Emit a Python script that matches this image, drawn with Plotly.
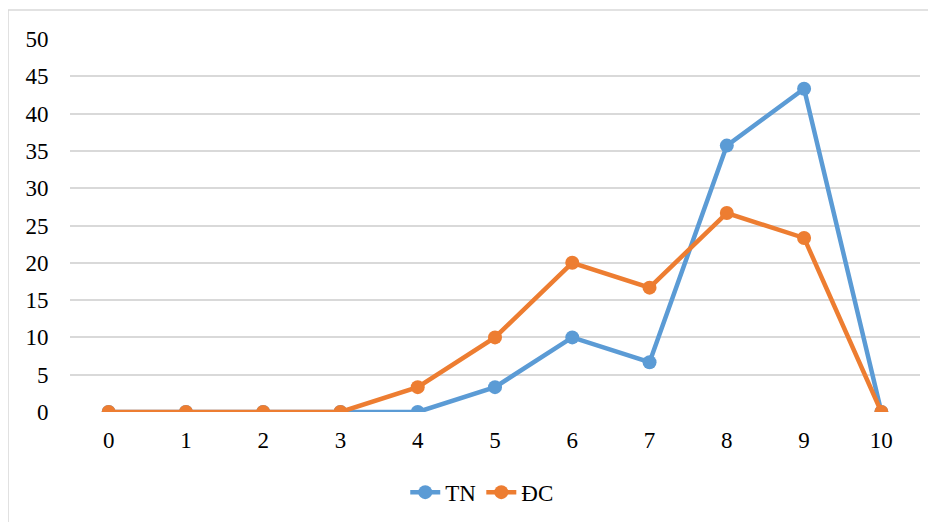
import plotly.graph_objects as go

categories = [0, 1, 2, 3, 4, 5, 6, 7, 8, 9, 10]
tn_values = [0, 0, 0, 0, 0, 3.33, 10, 6.67, 35.71, 43.33, 0]
dc_values = [0, 0, 0, 0, 3.33, 10, 20, 16.67, 26.67, 23.33, 0]
y_ticks = [0, 5, 10, 15, 20, 25, 30, 35, 40, 45, 50]

BLUE = "#5B9BD5"
ORANGE = "#ED7D31"
GRID = "#D9D9D9"
FONT = "Liberation Serif"

fig = go.Figure()
fig.add_trace(go.Scatter(x=categories, y=tn_values, name="TN", mode="lines+markers",
                         line=dict(color=BLUE, width=4.5), marker=dict(size=14, color=BLUE)))
fig.add_trace(go.Scatter(x=categories, y=dc_values, name="ĐC", mode="lines+markers",
                         line=dict(color=ORANGE, width=4.5), marker=dict(size=14, color=ORANGE)))

fig.update_layout(
    width=928, height=514,
    margin=dict(l=62, r=16, t=31, b=110, autoexpand=False),
    paper_bgcolor="white", plot_bgcolor="white",
    font=dict(family=FONT, size=23, color="black"),
    showlegend=True,
    legend=dict(orientation="h", x=0.485, xanchor="center",
                yref="container", y=0.058, yanchor="middle",
                font=dict(family=FONT, size=23)),
    xaxis=dict(range=[-0.5, 10.5], tickvals=categories, ticktext=[str(c) for c in categories],
               showgrid=False, zeroline=False, showline=False,
               ticks="outside", ticklen=7, tickcolor="rgba(0,0,0,0)"),
    yaxis=dict(range=[0, 50], tickvals=y_ticks, showgrid=True, gridcolor=GRID, gridwidth=1.5,
               zeroline=False, showline=False,
               ticks="outside", ticklen=16, tickcolor="rgba(0,0,0,0)"),
    shapes=[dict(type="rect", xref="paper", yref="paper",
                 x0=-0.0729, x1=1.2, y0=-0.5, y1=1.0777,
                 line=dict(color=GRID, width=1.5), fillcolor="rgba(0,0,0,0)", layer="below")],
)
fig.write_html("out.html")
